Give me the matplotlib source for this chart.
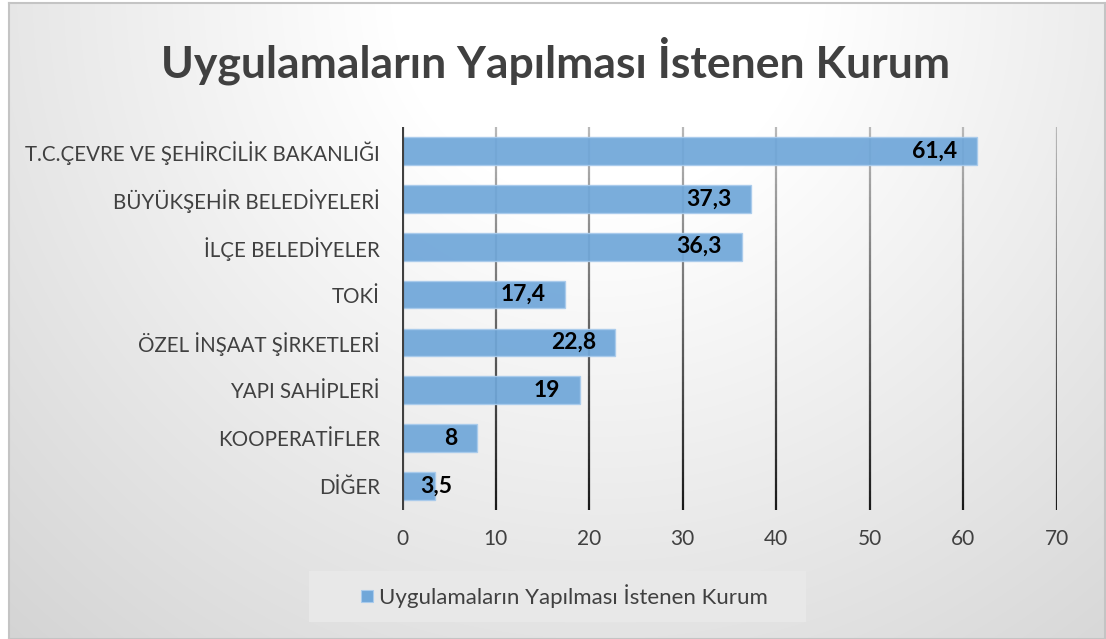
import numpy as np
import matplotlib
matplotlib.use("Agg")
import matplotlib.pyplot as plt
from matplotlib.collections import LineCollection
from matplotlib.patches import Rectangle

title = "Uygulamaların Yapılması İstenen Kurum"
categories = ["T.C.ÇEVRE VE ŞEHİRCİLİK BAKANLIĞI", "BÜYÜKŞEHİR BELEDİYELERİ",
              "İLÇE BELEDİYELER", "TOKİ", "ÖZEL İNŞAAT ŞİRKETLERİ",
              "YAPI SAHİPLERİ", "KOOPERATİFLER", "DİĞER"]
values = [61.4, 37.3, 36.3, 17.4, 22.8, 19, 8, 3.5]
value_labels = ["61,4", "37,3", "36,3", "17,4", "22,8", "19", "8", "3,5"]
xticks = [0, 10, 20, 30, 40, 50, 60, 70]
series_name = "Uygulamaların Yapılması İstenen Kurum"

W, H = 1106, 639
fig = plt.figure(figsize=(W / 100, H / 100), dpi=100)
fig.patch.set_facecolor("white")
FONT = "Lato"
TXT = "#404040"
BAR = "#70a7d9"

# background with radial gradient
bg = fig.add_axes([9 / W, 0, (1105 - 9) / W, (639 - 3) / H], zorder=-10)
yy, xx = np.mgrid[0:636, 9:1105]
d = np.sqrt(((xx - 600) / 700.0) ** 2 + ((yy + 10) / 700.0) ** 2)
c = 255 - 45 * np.clip(d - 0.3, 0, None)
c = np.clip(c, 0, 255) / 255.0
img = np.dstack([c, c, c])
bg.imshow(img, aspect="auto", extent=[0, 1, 0, 1], origin="upper")
bg.set_xlim(0, 1)
bg.set_ylim(0, 1)
bg.set_xticks([])
bg.set_yticks([])
for s in bg.spines.values():
    s.set_color("#c4c4c4")
    s.set_linewidth(1.5)

# plot area
left, right = 402 / W, 1057 / W
top, bottom = 1 - 127 / H, 1 - 510 / H
ax = fig.add_axes([left, bottom, right - left, top - bottom])
ax.set_facecolor("none")
ax.set_xlim(0, 70)
ax.set_ylim(len(categories) - 0.5, -0.5)
for s in ax.spines.values():
    s.set_visible(False)

# gradient gridlines
ny = 60
ys = np.linspace(-0.5, len(categories) - 0.5, ny + 1)
for xv in xticks[1:]:
    segs = [[(xv, ys[i]), (xv, ys[i + 1])] for i in range(ny)]
    t = np.linspace(0, 1, ny)
    g = 0.72 - 0.62 * t
    cols = [(gi, gi, gi) for gi in g]
    ax.add_collection(LineCollection(segs, colors=cols, linewidths=1.6, zorder=1))

ypos = np.arange(len(categories))
ax.barh(ypos, values, height=0.58, color=BAR, edgecolor="#a9cbec",
        linewidth=1.0, alpha=0.93, zorder=2)
ax.axvline(0, color="#404040", lw=3, zorder=3)

# value labels
px_per_unit = (1057 - 402) / 70.0
for yv, v, lab in zip(ypos, values, value_labels):
    if v * px_per_unit > 45:
        ax.annotate(lab, (v, yv), xytext=(-14, 0), textcoords="offset points",
                    ha="right", va="center", fontsize=16.5, fontweight="bold",
                    family=FONT, color="black", zorder=4)
    else:
        ax.annotate(lab, (0, yv), xytext=(13, 0), textcoords="offset points",
                    ha="left", va="center", fontsize=16.5, fontweight="bold",
                    family=FONT, color="black", zorder=4)

ax.set_yticks(ypos)
ax.set_yticklabels(categories, fontsize=14.8, family=FONT, color=TXT)
ax.set_xticks(xticks)
ax.set_xticklabels([str(x) for x in xticks], fontsize=15, family=FONT, color=TXT)
ax.tick_params(axis="both", length=0)
ax.tick_params(axis="y", pad=16)
ax.tick_params(axis="x", pad=14)

fig.text(556 / W, 1 - 61 / H, title, ha="center", va="center",
         fontsize=32, fontweight="bold", family=FONT, color=TXT)

# legend box
fig.patches.append(Rectangle((309 / W, 1 - 622 / H), (806 - 309) / W, (622 - 571) / H,
                             transform=fig.transFigure, facecolor="#e8e8e8",
                             edgecolor="none", zorder=1))
fig.patches.append(Rectangle((361 / W, 1 - 602 / H), 12 / W, 12 / H,
                             transform=fig.transFigure, facecolor=BAR,
                             edgecolor="#a9cbec", lw=0.8, zorder=2))
fig.text(379 / W, 1 - 596 / H, series_name, ha="left", va="center",
         fontsize=16, family=FONT, color=TXT, zorder=3)

fig.savefig("out.png", dpi=100)
